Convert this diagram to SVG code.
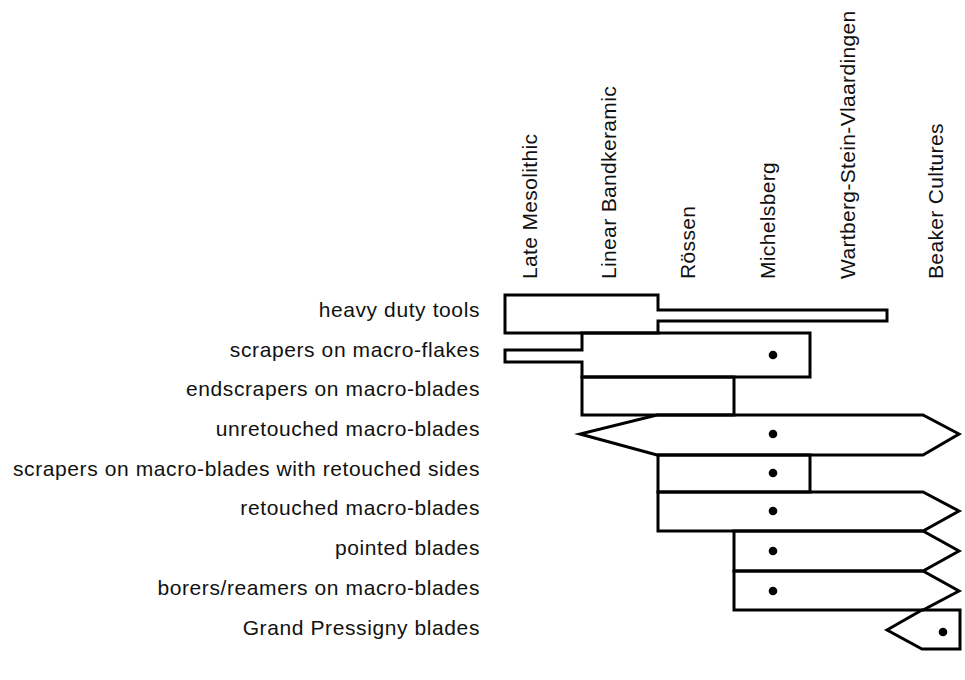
<svg xmlns="http://www.w3.org/2000/svg" width="965" height="680" viewBox="0 0 965 680">
<style>
text{font-family:"Liberation Sans",Arial,sans-serif;font-size:21px;letter-spacing:0.6px;fill:#111}
.hd{letter-spacing:0.35px}
.lbl{text-anchor:end}
.sh{fill:none;stroke:#000;stroke-width:3}
.dot{fill:#000}
</style>
<rect width="965" height="680" fill="#fff"/>
<g id="headers">
<g id="h-late-mesolithic"><text class="hd" transform="translate(537,279) rotate(-90)">Late Mesolithic</text></g>
<g id="h-linear-bandkeramic"><text class="hd" transform="translate(616,279) rotate(-90)">Linear Bandkeramic</text></g>
<g id="h-rossen"><text class="hd" transform="translate(695,279) rotate(-90)">Rössen</text></g>
<g id="h-michelsberg"><text class="hd" transform="translate(775,279) rotate(-90)">Michelsberg</text></g>
<g id="h-wartberg"><text class="hd" transform="translate(855,279) rotate(-90)">Wartberg-Stein-Vlaardingen</text></g>
<g id="h-beaker"><text class="hd" transform="translate(943,279) rotate(-90)">Beaker Cultures</text></g>
</g>
<g id="heavy-duty-tools">
<text class="lbl" x="480" y="317">heavy duty tools</text>
<polygon class="sh" points="505,295 658,295 658,310 887,310 887,321 658,321 658,333 505,333"/>
</g>
<g id="scrapers-on-macro-flakes">
<text class="lbl" x="480" y="357">scrapers on macro-flakes</text>
<polygon class="sh" points="582,333 810,333 810,377 582,377 582,362 505,362 505,350 582,350"/>
<circle class="dot" cx="773" cy="355" r="4.3"/>
</g>
<g id="endscrapers-on-macro-blades">
<text class="lbl" x="480" y="396">endscrapers on macro-blades</text>
<polygon class="sh" points="582,377 734,377 734,415 582,415"/>
</g>
<g id="unretouched-macro-blades">
<text class="lbl" x="480" y="436">unretouched macro-blades</text>
<polygon class="sh" points="657,415 923,415 959,434 923,455 657,455 580,434"/>
<circle class="dot" cx="773" cy="434" r="4.3"/>
</g>
<g id="scrapers-on-macro-blades-retouched-sides">
<text class="lbl" x="480" y="476">scrapers on macro-blades with retouched sides</text>
<polygon class="sh" points="658,455 810,455 810,492 658,492"/>
<circle class="dot" cx="773" cy="473" r="4.3"/>
</g>
<g id="retouched-macro-blades">
<text class="lbl" x="480" y="515">retouched macro-blades</text>
<polygon class="sh" points="658,492 923,492 959,511 923,531 658,531"/>
<circle class="dot" cx="773" cy="511" r="4.3"/>
</g>
<g id="pointed-blades">
<text class="lbl" x="480" y="555">pointed blades</text>
<polygon class="sh" points="734,531 923,531 959,551 923,571 734,571"/>
<circle class="dot" cx="773" cy="551" r="4.3"/>
</g>
<g id="borers-reamers">
<text class="lbl" x="480" y="595">borers/reamers on macro-blades</text>
<polygon class="sh" points="734,571 923,571 959,591 923,610 734,610"/>
<circle class="dot" cx="773" cy="591" r="4.3"/>
</g>
<g id="grand-pressigny-blades">
<text class="lbl" x="480" y="635">Grand Pressigny blades</text>
<polygon class="sh" points="887,630 922,610 960,610 960,649 922,649"/>
<circle class="dot" cx="943" cy="632" r="4.3"/>
</g>
</svg>
